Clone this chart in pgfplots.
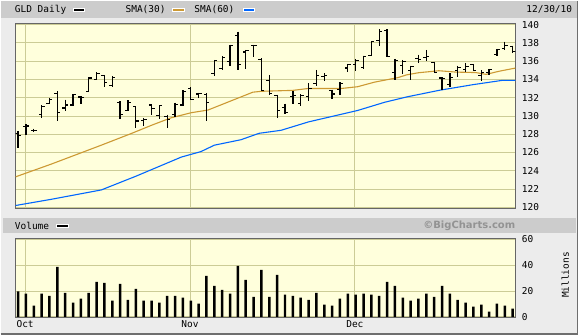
\documentclass[border=0pt]{standalone}
\usepackage{fontspec}
\setmainfont{DejaVu Sans Mono}
\newfontfamily\bcfont{DejaVu Sans}
\usepackage{pgfplots}
\usepackage{pgfplotstable}
\pgfplotsset{compat=1.18}
\definecolor{bgc}{RGB}{236,236,236}
\definecolor{hdr}{RGB}{204,204,204}
\definecolor{plotbg}{RGB}{255,255,220}
\definecolor{gridc}{RGB}{204,204,150}
\definecolor{smaA}{RGB}{204,153,51}
\definecolor{smaB}{RGB}{0,102,255}
\definecolor{framec}{RGB}{110,110,110}
\newcommand{\lbl}{\fontsize{9.5bp}{11bp}\selectfont}

\pgfplotstableread{
i O H L C
0 128.1 128.3 126.5 127.9
1 128.8 129.1 127.9 128.9
2 128.45 128.6 128.2 128.4
3 130.15 131.16 129.78 131.05
4 131.4 131.96 131.27 131.8
5 132.5 132.7 129.45 130.4
6 130.87 131.8 130.5 131.2
7 131.2 132.36 131.1 132.3
8 132.07 132.2 131.3 132.05
9 132.7 134.25 132.6 134.15
10 134.0 134.8 133.9 134.65
11 134.4 134.5 133.16 133.64
12 133.3 134.33 133.16 134.25
13 131.5 131.6 129.7 130.2
14 130.55 131.7 130.5 131.45
15 131.0 131.05 128.7 129.45
16 129.5 129.8 128.9 129.6
17 131.2 131.3 130.07 130.85
18 130.0 131.16 129.7 131.1
19 129.9 130.15 128.7 129.65
20 130.15 131.45 129.9 131.3
21 131.2 132.8 131.05 132.7
22 133.05 133.16 131.8 131.85
23 132.4 132.55 131.96 132.45
24 132.3 132.5 129.45 131.5
25 134.6 136.15 134.33 136.05
26 135.2 136.55 134.98 136.4
27 136.0 137.8 135.5 137.75
28 138.8 139.24 135.05 135.6
29 137.0 137.24 135.16 137.15
30 137.7 137.8 136.44 137.7
31 136.2 136.33 132.7 132.75
32 133.9 134.5 132.33 132.45
33 132.2 132.33 129.8 130.6
34 130.9 131.35 130.2 130.35
35 132.1 132.7 131.35 132.2
36 131.4 132.36 131.05 132.2
37 132.15 133.6 131.6 133.0
38 133.6 135.05 133.24 134.45
39 134.3 134.7 133.8 134.4
40 132.8 132.87 131.9 132.4
41 132.9 133.7 132.33 133.55
42 135.25 135.7 134.8 135.6
43 135.6 136.25 134.9 136.1
44 135.3 136.6 135.16 136.5
45 136.6 138.2 136.55 138.15
46 138.3 139.5 137.7 139.2
47 139.4 139.5 136.5 136.55
48 134.8 136.25 133.9 136.07
49 135.5 136.15 134.6 135.96
50 135.0 135.5 133.9 135.4
51 136.3 136.7 135.8 136.2
52 136.4 137.24 136.0 136.5
53 135.85 135.96 134.7 134.8
54 134.15 134.25 132.8 134.1
55 133.4 134.7 133.16 134.2
56 135.0 135.5 134.25 135.3
57 135.1 135.8 134.8 135.4
58 135.6 135.7 134.87 135.0
59 134.4 134.98 133.85 134.8
60 134.8 135.16 134.5 135.1
61 136.7 137.35 136.55 137.25
62 137.4 138.15 137.24 137.7
63 137.6 137.7 136.9 137.05
}\ohlc

\pgfplotstableread{
i V
0 19.7
1 18
2 8.7
3 18
4 16.4
5 38.7
6 18.7
7 11
8 14.1
9 18.7
10 27.2
11 26.4
12 12.6
13 25.6
14 13.3
15 21.8
16 12.6
17 12.6
18 11
19 16.4
20 16.4
21 14.9
22 12.6
23 10.3
24 31.8
25 24.1
26 21
27 18
28 39.5
29 28.7
30 15.6
31 36.4
32 15.6
33 32.6
34 17.2
35 16.4
36 14.9
37 13.3
38 18.7
39 9.5
40 8.7
41 14.1
42 18
43 17.2
44 18
45 17.2
46 16.4
47 27.2
48 24.1
49 14.9
50 12.6
51 14.1
52 18
53 15.6
54 24.1
55 18
56 13.3
57 11
58 8
59 9.5
60 4.1
61 10.3
62 8.7
63 6.4
}\vol

\pgfplotstableread{
x y
-0.3 123.34
4.2 124.72
10.6 126.8
14.4 128.07
17.0 128.98
19.5 129.8
22.1 130.36
24.2 130.65
29.9 132.6
31.0 132.7
35.0 132.8
36.9 133.0
41.1 133.0
43.25 133.2
45.4 133.7
48.4 134.2
49.5 134.5
51.0 134.73
53.6 134.95
55.8 134.8
58.3 134.75
59.6 134.55
61.3 134.9
63.4 135.25
}\smathirty

\pgfplotstableread{
x y
-0.3 120.2
4.2 120.87
10.6 121.9
15.0 123.4
20.8 125.5
23.3 126.1
25.0 126.8
28.4 127.4
30.7 128.1
33.5 128.43
37.0 129.35
43.25 130.6
46.7 131.5
49.6 132.1
53.6 132.8
57.9 133.42
61.7 133.9
63.4 133.9
}\smasixty

\begin{document}
\begin{tikzpicture}
\begin{scope}[x=1bp,y=1bp]
\fill[bgc] (0,0) rectangle (579,335);
\fill[hdr] (0,318) rectangle (579,335);
\fill[hdr] (2,102.3) rectangle (577,116.7);
\draw[framec, line width=1.5bp] (578.25,0) -- (578.25,335);
\draw[framec, line width=1.5bp] (0,0.75) -- (579,0.75);
\node[anchor=west, inner sep=0, font=\lbl] at (14,326) {GLD Daily};
\filldraw[fill=black, draw=white, line width=0.8bp] (72.7,324) rectangle (84.3,327.8);
\node[anchor=west, inner sep=0, font=\lbl] at (125,326) {SMA(30)};
\filldraw[fill=smaA, draw=white, line width=0.8bp] (172,324) rectangle (184,327.8);
\node[anchor=west, inner sep=0, font=\lbl] at (194,326) {SMA(60)};
\filldraw[fill=smaB, draw=white, line width=0.8bp] (243,324) rectangle (254.5,327.8);
\node[anchor=east, inner sep=0, font=\lbl] at (573,326) {12/30/10};
\node[anchor=west, inner sep=0, font=\lbl] at (14,109.5) {Volume};
\filldraw[fill=black, draw=white, line width=0.6bp] (55.7,108.2) rectangle (67.7,111.2);
\node[anchor=east, inner sep=0, font=\bcfont\bfseries\fontsize{10bp}{11bp}\selectfont, text=gray!85] at (516,109.5) {©BigCharts.com};
\node[rotate=90, inner sep=0, font=\lbl] at (566,60) {Millions};
\end{scope}

\begin{axis}[
  at={(15bp,127bp)}, anchor=south west,
  width=501bp, height=185bp, scale only axis,
  xmin=-0.3, xmax=63.35, ymin=119.9, ymax=140.1,
  axis background/.style={fill=plotbg},
  axis line style={draw=gray!80!black, line width=0.8bp},
  xtick={0.9,21.9,42.9}, xticklabels={},
  ytick={120,122,...,140},
  grid=major, grid style={gridc, line width=0.9bp},
  major tick length=0pt,
  yticklabel pos=right,
  y tick label style={font=\lbl, anchor=west, xshift=3bp},
  /pgf/number format/assume math mode=true,
  clip=true,
]
\addplot[smaA, line width=1.1bp] table[x=x, y=y] {\smathirty};
\addplot[smaB, line width=1.1bp] table[x=x, y=y] {\smasixty};
\addplot[draw=none, mark=none,
  error bars/.cd, y dir=minus, y explicit, error mark=none,
  error bar style={draw=black, line width=1.3bp}]
  table[x=i, y=H, y error minus expr=\thisrow{H}-\thisrow{L}] {\ohlc};
\addplot[draw=none, mark=none,
  error bars/.cd, x dir=minus, x fixed=0.38, error mark=none,
  error bar style={draw=black, line width=1.1bp}]
  table[x=i, y=O] {\ohlc};
\addplot[draw=none, mark=none,
  error bars/.cd, x dir=plus, x fixed=0.38, error mark=none,
  error bar style={draw=black, line width=1.1bp}]
  table[x=i, y=C] {\ohlc};
\end{axis}

\begin{axis}[
  at={(15bp,18bp)}, anchor=south west,
  width=501bp, height=79bp, scale only axis,
  xmin=-0.3, xmax=63.35, ymin=0, ymax=61,
  axis background/.style={fill=plotbg},
  axis line style={draw=gray!80!black, line width=0.8bp},
  xtick={0.9,21.9,42.9}, xticklabels={Oct,Nov,Dec},
  x tick label style={font=\lbl},
  ytick={0,20,40,60},
  grid=major, grid style={gridc, line width=0.9bp},
  major tick length=0pt,
  yticklabel pos=right,
  y tick label style={font=\lbl, anchor=west, xshift=3bp},
  /pgf/number format/assume math mode=true,
]
\addplot[ybar, bar width=2.5bp, fill=black, draw=none] table[x=i, y=V] {\vol};
\end{axis}
\end{tikzpicture}
\end{document}
